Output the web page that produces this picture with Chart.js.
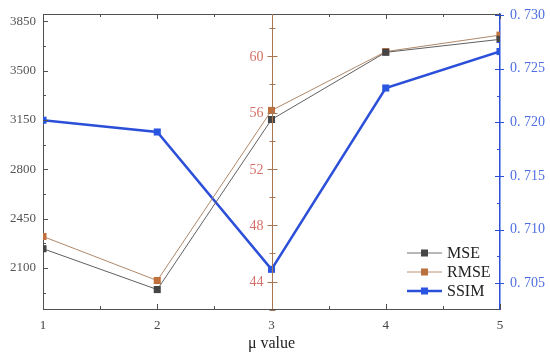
<!DOCTYPE html>
<html>
<head>
<meta charset="utf-8">
<script src="https://cdn.jsdelivr.net/npm/chart.js@4.4.0/dist/chart.umd.min.js"></script>
<style>
html, body { margin: 0; padding: 0; background: #fff; }
#wrap { width: 550px; height: 357px; }
</style>
</head>
<body>
<div id="wrap"><canvas id="muchart"></canvas></div>
<script>
const muValues = [1, 2, 3, 4, 5];
const mseValues = [2236, 1946, 3153, 3630, 3722];
const rmseValues = [47.2, 44.07, 56.15, 60.33, 61.5];
const ssimValues = [0.7202, 0.7191, 0.7063, 0.7232, 0.7266];

// tick positions (majors get a label, the rest are minor marks)
const muTicks = [1, 1.5, 2, 2.5, 3, 3.5, 4, 4.5, 5];
const muLabels = [1, 2, 3, 4, 5];
const mseTicks = [1925, 2100, 2275, 2450, 2625, 2800, 2975, 3150, 3325, 3500, 3675, 3850];
const mseLabels = [2100, 2450, 2800, 3150, 3500, 3850];
const rmseTicks = [42, 44, 46, 48, 50, 52, 54, 56, 58, 60, 62];
const rmseLabels = [44, 48, 52, 56, 60];
const ssimTicks = [0.705, 0.7075, 0.71, 0.7125, 0.715, 0.7175, 0.72, 0.7225, 0.725, 0.7275, 0.73];
const ssimLabels = [0.705, 0.71, 0.715, 0.72, 0.725, 0.73];

const serif = 'Liberation Serif';
const GRAY = '#505050';
const BROWN = '#a87650';
const BLUE = '#2b4fd8';

function isMajor(list, v) {
    return list.some(m => Math.abs(m - v) < 1e-7);
}

// inward tick marks, top border, middle axis labels and the in-plot legend
const decorPlugin = {
    id: 'decor',
    afterDraw(chart) {
        const ctx = chart.ctx;
        const area = chart.chartArea;
        const s = chart.scales;
        ctx.save();
        ctx.lineWidth = 1;

        // top border
        ctx.strokeStyle = GRAY;
        ctx.beginPath();
        ctx.moveTo(area.left, area.top + 0.5);
        ctx.lineTo(area.right, area.top + 0.5);
        ctx.stroke();

        ctx.beginPath();
        muTicks.forEach(v => {
            const x = Math.round(s.x.getPixelForValue(v)) + 0.5;
            const len = isMajor(muLabels, v) ? 5 : 3;
            ctx.moveTo(x, area.bottom);
            ctx.lineTo(x, area.bottom - len);
            ctx.moveTo(x, area.top);
            ctx.lineTo(x, area.top + len);
        });
        mseTicks.forEach(v => {
            const y = Math.round(s.yMse.getPixelForValue(v)) + 0.5;
            const len = isMajor(mseLabels, v) ? 5 : 3;
            ctx.moveTo(area.left, y);
            ctx.lineTo(area.left + len, y);
        });
        ctx.stroke();

        // middle (RMSE) axis
        const mx = Math.round(s.x.getPixelForValue(3)) + 0.5;
        ctx.strokeStyle = BROWN;
        ctx.beginPath();
        ctx.moveTo(mx, area.top);
        ctx.lineTo(mx, area.bottom);
        rmseTicks.forEach(v => {
            const y = Math.round(s.yRmse.getPixelForValue(v)) + 0.5;
            const len = isMajor(rmseLabels, v) ? 5 : 3;
            ctx.moveTo(mx - len, y);
            ctx.lineTo(mx + len, y);
        });
        ctx.stroke();
        ctx.fillStyle = '#d4706a';
        ctx.font = '14px "' + serif + '"';
        ctx.textAlign = 'right';
        ctx.textBaseline = 'middle';
        rmseLabels.forEach(v => {
            ctx.fillText(String(v), mx - 9, s.yRmse.getPixelForValue(v) + 1);
        });

        ctx.strokeStyle = BLUE;
        ctx.beginPath();
        ssimTicks.forEach(v => {
            const y = Math.round(s.ySsim.getPixelForValue(v)) + 0.5;
            const major = isMajor(ssimLabels, v);
            ctx.moveTo(area.right - (major ? 5 : 3), y);
            ctx.lineTo(area.right + (major ? 4 : 0), y);
        });
        ctx.stroke();

        // legend
        const items = [
            { label: 'MSE', line: '#707070', mark: '#454545', w: 1 },
            { label: 'RMSE', line: '#b89070', mark: '#b8703c', w: 1 },
            { label: 'SSIM', line: BLUE, mark: '#2a55e0', w: 2.5 }
        ];
        ctx.font = '16px "' + serif + '"';
        ctx.textAlign = 'left';
        items.forEach((it, i) => {
            const y = 253 + i * 19;
            ctx.strokeStyle = it.line;
            ctx.lineWidth = it.w;
            ctx.beginPath();
            ctx.moveTo(407, y);
            ctx.lineTo(442, y);
            ctx.stroke();
            ctx.fillStyle = it.mark;
            ctx.fillRect(421, y - 3.5, 7, 7);
            ctx.fillStyle = '#222';
            ctx.fillText(it.label, 447, y + 1);
        });
        ctx.restore();
    }
};

function toPoints(vals) {
    return muValues.map((m, i) => ({ x: m, y: vals[i] }));
}

function fixSide(width) {
    return axis => {
        axis.width = width;
        axis.paddingTop = 0;
        axis.paddingBottom = 0;
    };
}

const ctx = document.getElementById('muchart');
new Chart(ctx, {
    type: 'line',
    data: {
        datasets: [
            {
                label: 'MSE',
                data: toPoints(mseValues),
                yAxisID: 'yMse',
                borderColor: '#606060',
                backgroundColor: '#454545',
                borderWidth: 1,
                pointStyle: 'rect',
                pointRadius: 5,
                pointBorderWidth: 0
            },
            {
                label: 'RMSE',
                data: toPoints(rmseValues),
                yAxisID: 'yRmse',
                borderColor: '#b08868',
                backgroundColor: '#c0703c',
                borderWidth: 1,
                pointStyle: 'rect',
                pointRadius: 5,
                pointBorderWidth: 0
            },
            {
                label: 'SSIM',
                data: toPoints(ssimValues),
                yAxisID: 'ySsim',
                borderColor: BLUE,
                backgroundColor: '#2a55e0',
                borderWidth: 2.5,
                pointStyle: 'rect',
                pointRadius: 5,
                pointBorderWidth: 0
            }
        ]
    },
    options: {
        responsive: true,
        maintainAspectRatio: false,
        animation: false,
        layout: { padding: { top: 14, left: 0, right: 0, bottom: 0 } },
        plugins: {
            legend: { display: false },
            tooltip: { enabled: false }
        },
        scales: {
            x: {
                type: 'linear',
                min: 1,
                max: 5,
                afterBuildTicks: axis => { axis.ticks = muLabels.map(v => ({ value: v })); },
                afterFit: axis => { axis.height = 48; },
                grid: { display: true, drawOnChartArea: false, drawTicks: false },
                border: { color: GRAY, width: 1 },
                ticks: {
                    padding: 9,
                    color: '#444',
                    font: { family: serif, size: 13 }
                },
                title: {
                    display: true,
                    text: 'μ value',
                    color: '#222',
                    padding: { top: 2 },
                    font: { family: serif, size: 16 }
                }
            },
            yMse: {
                type: 'linear',
                position: 'left',
                min: 1808,
                max: 3902,
                afterBuildTicks: axis => { axis.ticks = mseLabels.map(v => ({ value: v })); },
                afterFit: fixSide(43),
                grid: { display: true, drawOnChartArea: false, drawTicks: false },
                border: { color: GRAY, width: 1 },
                ticks: {
                    padding: 7,
                    color: '#555',
                    font: { family: serif, size: 13 },
                    callback: v => String(v)
                }
            },
            yRmse: {
                type: 'linear',
                position: { x: 3 },
                min: 42.05,
                max: 63,
                display: true,
                grid: { display: false, drawTicks: false },
                border: { display: false },
                ticks: { display: false }
            },
            ySsim: {
                type: 'linear',
                position: 'right',
                min: 0.7026,
                max: 0.7301,
                afterBuildTicks: axis => { axis.ticks = ssimLabels.map(v => ({ value: v })); },
                afterFit: fixSide(50),
                grid: { display: true, drawOnChartArea: false, drawTicks: false },
                border: { color: BLUE, width: 1.5 },
                ticks: {
                    padding: 10,
                    color: '#4f6fe0',
                    font: { family: serif, size: 14 },
                    callback: v => v.toFixed(3).replace('.', '. ')
                }
            }
        }
    },
    plugins: [decorPlugin]
});
</script>
</body>
</html>
